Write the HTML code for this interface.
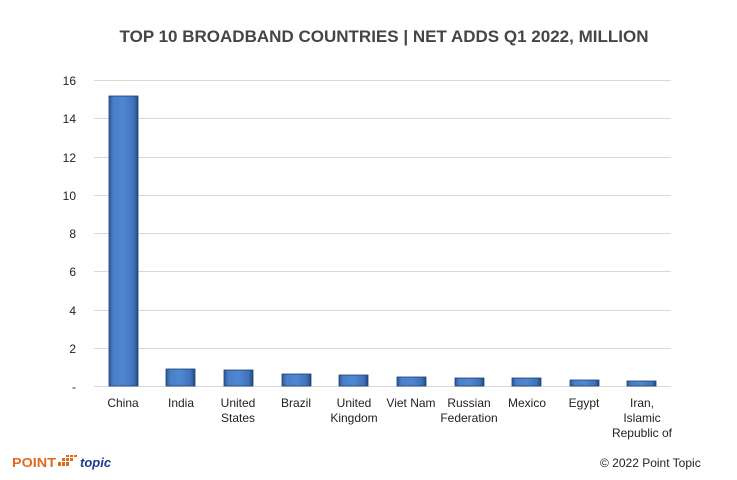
<!DOCTYPE html>
<html><head><style>body{margin:0;background:#fff}</style></head><body>
<svg width="737" height="475" xmlns="http://www.w3.org/2000/svg" font-family="Liberation Sans, sans-serif">
<defs>
<linearGradient id="g" x1="0" x2="1" y1="0" y2="0">
<stop offset="0" stop-color="#2c5a9c"/><stop offset="0.15" stop-color="#4a7fc8"/><stop offset="0.5" stop-color="#4f87d2"/><stop offset="0.85" stop-color="#3f72bb"/><stop offset="1" stop-color="#224a85"/></linearGradient>
</defs>
<text x="384" y="42" text-anchor="middle" font-size="17" font-weight="bold" fill="#454545" textLength="529" lengthAdjust="spacingAndGlyphs">TOP 10 BROADBAND COUNTRIES | NET ADDS Q1 2022, MILLION</text>
<g stroke="#d9d9d9" stroke-width="1">
<line x1="94" x2="671" y1="80.5" y2="80.5"/><line x1="94" x2="671" y1="118.5" y2="118.5"/><line x1="94" x2="671" y1="157.5" y2="157.5"/><line x1="94" x2="671" y1="195.5" y2="195.5"/><line x1="94" x2="671" y1="233.5" y2="233.5"/><line x1="94" x2="671" y1="271.5" y2="271.5"/><line x1="94" x2="671" y1="310.5" y2="310.5"/><line x1="94" x2="671" y1="348.5" y2="348.5"/><line x1="94" x2="671" y1="386.5" y2="386.5"/>
</g>
<g font-size="12" fill="#222" text-anchor="end">
<text x="76" y="85">16</text><text x="76" y="123">14</text><text x="76" y="162">12</text><text x="76" y="200">10</text><text x="76" y="238">8</text><text x="76" y="276">6</text><text x="76" y="315">4</text><text x="76" y="353">2</text><text x="76" y="391">-</text>
</g>
<g fill="url(#g)" stroke="#1f3f70" stroke-width="0.8">
<rect x="109" y="96" width="29" height="290"/>
<rect x="166" y="369" width="29" height="17"/>
<rect x="224" y="370" width="29" height="16"/>
<rect x="282" y="374" width="29" height="12"/>
<rect x="339" y="375" width="29" height="11"/>
<rect x="397" y="377" width="29" height="9"/>
<rect x="455" y="378" width="29" height="8"/>
<rect x="512" y="378" width="29" height="8"/>
<rect x="570" y="380" width="29" height="6"/>
<rect x="627" y="381" width="29" height="5"/>
</g>
<g font-size="12" fill="#222" text-anchor="middle">
<text x="123" y="407">China</text>
<text x="181" y="407">India</text>
<text x="238" y="407">United</text><text x="238" y="422">States</text>
<text x="296" y="407">Brazil</text>
<text x="354" y="407">United</text><text x="354" y="422">Kingdom</text>
<text x="411" y="407">Viet Nam</text>
<text x="469" y="407">Russian</text><text x="469" y="422">Federation</text>
<text x="527" y="407">Mexico</text>
<text x="584" y="407">Egypt</text>
<text x="642" y="407">Iran,</text><text x="642" y="422">Islamic</text><text x="642" y="437">Republic of</text>
</g>
<text x="12" y="467" font-size="13" font-weight="bold" fill="#e06a1e" textLength="44" lengthAdjust="spacingAndGlyphs">POINT</text>
<g fill="#e06a1e"><rect x="58" y="462" width="3" height="4"/><rect x="62" y="462" width="3" height="4"/><rect x="62" y="458" width="3" height="3"/><rect x="66" y="458" width="3" height="3"/><rect x="66" y="462" width="3" height="4"/><rect x="70" y="458" width="3" height="3"/><rect x="66" y="455" width="3" height="2"/><rect x="70" y="455" width="3" height="2"/><rect x="74" y="455" width="3" height="2"/></g>
<text x="80" y="467" font-size="13" font-weight="bold" font-style="italic" fill="#1d3a8a">topic</text>
<text x="600" y="467" font-size="12" fill="#222">© 2022 Point Topic</text>
</svg>
</body></html>
